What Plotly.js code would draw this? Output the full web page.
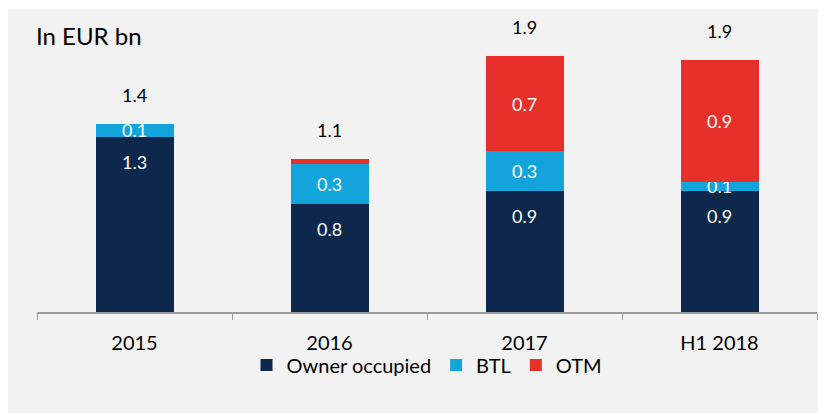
<!DOCTYPE html>
<html>
<head>
<meta charset="utf-8">
<script src="https://cdn.plot.ly/plotly-3.0.1.min.js"></script>
<style>html,body{margin:0;padding:0;background:#fff;}#chart{width:828px;height:415px;}</style>
</head>
<body>
<div id="chart"></div>
<script>
const categories = ["2015", "2016", "2017", "H1 2018"];
const ownerOccupied = [1.3, 0.8, 0.9, 0.9];
const btl = [0.1, 0.3, 0.3, 0.07];
const otm = [0, 0.04, 0.7, 0.9];
const ownerLabels = ["1.3", "0.8", "0.9", "0.9"];
const btlLabels = ["0.1", "0.3", "0.3", "0.1"];
const otmLabels = ["", "", "0.7", "0.9"];
const totalLabels = ["1.4", "1.1", "1.9", "1.9"];

const FONT = "Lato, 'Open Sans', sans-serif";
const navy = "#0e284d", blue = "#13a4dc", red = "#e8302a";

const segText = {family: FONT, size: 18, color: "#ffffff"};

const traces = [
  {type: "bar", name: "Owner occupied", x: categories, y: ownerOccupied,
   marker: {color: navy}, hoverinfo: "none"},
  {type: "bar", name: "BTL", x: categories, y: btl, text: btlLabels,
   textposition: "inside", insidetextanchor: "middle", constraintext: "none",
   textfont: segText, marker: {color: blue}, hoverinfo: "none"},
  {type: "bar", name: "OTM", x: categories, y: otm, text: otmLabels,
   textposition: "inside", insidetextanchor: "middle", constraintext: "none",
   textfont: segText, marker: {color: red}, hoverinfo: "none"}
];

const annotations = [];
categories.forEach((c, i) => {
  const total = ownerOccupied[i] + btl[i] + otm[i];
  annotations.push({x: i, y: total, xref: "x", yref: "y", text: totalLabels[i],
    showarrow: false, yshift: 29, yanchor: "middle",
    font: {family: FONT, size: 18, color: "#000"}});
  annotations.push({x: i, y: ownerOccupied[i], xref: "x", yref: "y", text: ownerLabels[i],
    showarrow: false, yshift: -25, yanchor: "middle",
    font: {family: FONT, size: 18, color: "#fff"}});
});
annotations.push({x: -0.004, y: 1.028, xref: "paper", yref: "paper", text: "In EUR bn",
  showarrow: false, xanchor: "left", yanchor: "middle",
  font: {family: FONT, size: 24, color: "#000"}});

const layout = {
  width: 828, height: 415,
  margin: {l: 37, r: 11, t: 43, b: 103, pad: 0},
  paper_bgcolor: "#ffffff",
  plot_bgcolor: "rgba(0,0,0,0)",
  barmode: "stack",
  bargap: 0.6,
  font: {family: FONT, size: 20, color: "#000"},
  xaxis: {
    type: "category", categoryorder: "array", categoryarray: categories,
    range: [-0.5, 3.5], autorange: false,
    showline: true, linecolor: "#9d9d9d", linewidth: 1.5,
    ticks: "outside", tickson: "boundaries", ticklen: 6, tickcolor: "#9d9d9d",
    tickwidth: 1, showgrid: false, zeroline: false, tickangle: 0,
    tickfont: {family: FONT, size: 20, color: "#000"}, ticklabelstandoff: 12
  },
  yaxis: {range: [0, 2.0], autorange: false, visible: false, showgrid: false, zeroline: false, fixedrange: true},
  showlegend: true,
  legend: {orientation: "h", x: 0.5, xanchor: "center", y: -0.197, yanchor: "middle",
    font: {family: FONT, size: 20, color: "#000"}, traceorder: "normal",
    bgcolor: "rgba(0,0,0,0)", itemwidth: 30},
  shapes: [{type: "rect", xref: "paper", yref: "paper", x0: -0.0372, x1: 1.0013,
    y0: -0.3755, y1: 1.1264, fillcolor: "#f2f2f2", line: {width: 0}, layer: "below"}],
  annotations: annotations
};

Plotly.newPlot("chart", traces, layout, {displayModeBar: false, staticPlot: true});
</script>
</body>
</html>
